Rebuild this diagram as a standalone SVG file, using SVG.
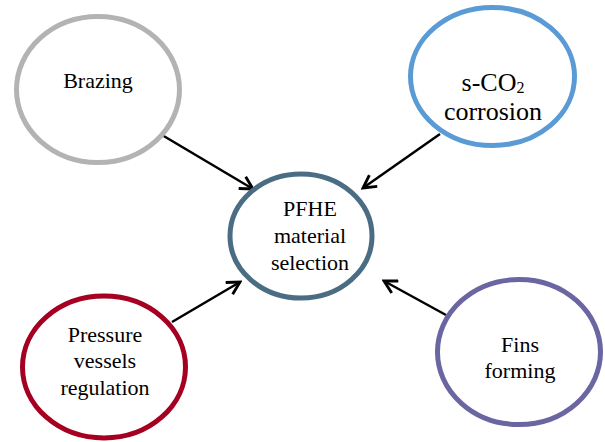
<svg xmlns="http://www.w3.org/2000/svg" width="605" height="442" viewBox="0 0 605 442">
<style>
.n{fill:#fff;stroke-width:5}
.t{font-family:"Liberation Serif","Times New Roman",serif;font-size:22px;fill:#000;text-anchor:middle}
.c{stroke:#000;stroke-width:2.5;fill:none;marker-end:url(#ah)}
</style>
<defs>
<marker id="ah" viewBox="0 0 14 14" refX="12" refY="7" markerWidth="16" markerHeight="16" markerUnits="userSpaceOnUse" orient="auto">
<path d="M1,1 L12,7 L1,13" fill="none" stroke="#000" stroke-width="2.5"/>
</marker>
</defs>
<rect width="605" height="442" fill="#fff"/>
<g id="connectors">
<line class="c" x1="162" y1="135" x2="253" y2="189"/>
<line class="c" x1="440" y1="134" x2="363" y2="188"/>
<line class="c" x1="172" y1="322" x2="240" y2="282"/>
<line class="c" x1="446" y1="315" x2="384" y2="281"/>
</g>
<g id="brazing">
<ellipse class="n" cx="98" cy="89.5" rx="81.5" ry="73" stroke="#b3b3b3"/>
<text class="t" x="98" y="88">Brazing</text>
</g>
<g id="sco2">
<ellipse class="n" cx="492.5" cy="76.5" rx="82" ry="69" stroke="#5b9bd5"/>
<text class="t" x="493" y="91" style="font-size:26px">s-CO<tspan font-size="16" dy="2">2</tspan></text>
<text class="t" x="493" y="120" style="font-size:26px">corrosion</text>
</g>
<g id="pfhe">
<ellipse class="n" cx="301" cy="236" rx="71" ry="62" stroke="#4a6d83"/>
<text class="t" x="310" y="216">PFHE</text>
<text class="t" x="310" y="243">material</text>
<text class="t" x="310" y="270">selection</text>
</g>
<g id="pressure">
<ellipse class="n" cx="104" cy="367" rx="81.5" ry="71" stroke="#a50021"/>
<text class="t" x="105" y="342">Pressure</text>
<text class="t" x="105" y="368">vessels</text>
<text class="t" x="105" y="395">regulation</text>
</g>
<g id="fins">
<ellipse class="n" cx="519" cy="352" rx="81.5" ry="72.5" stroke="#6a66a1"/>
<text class="t" x="520" y="352">Fins</text>
<text class="t" x="520" y="378">forming</text>
</g>
</svg>
